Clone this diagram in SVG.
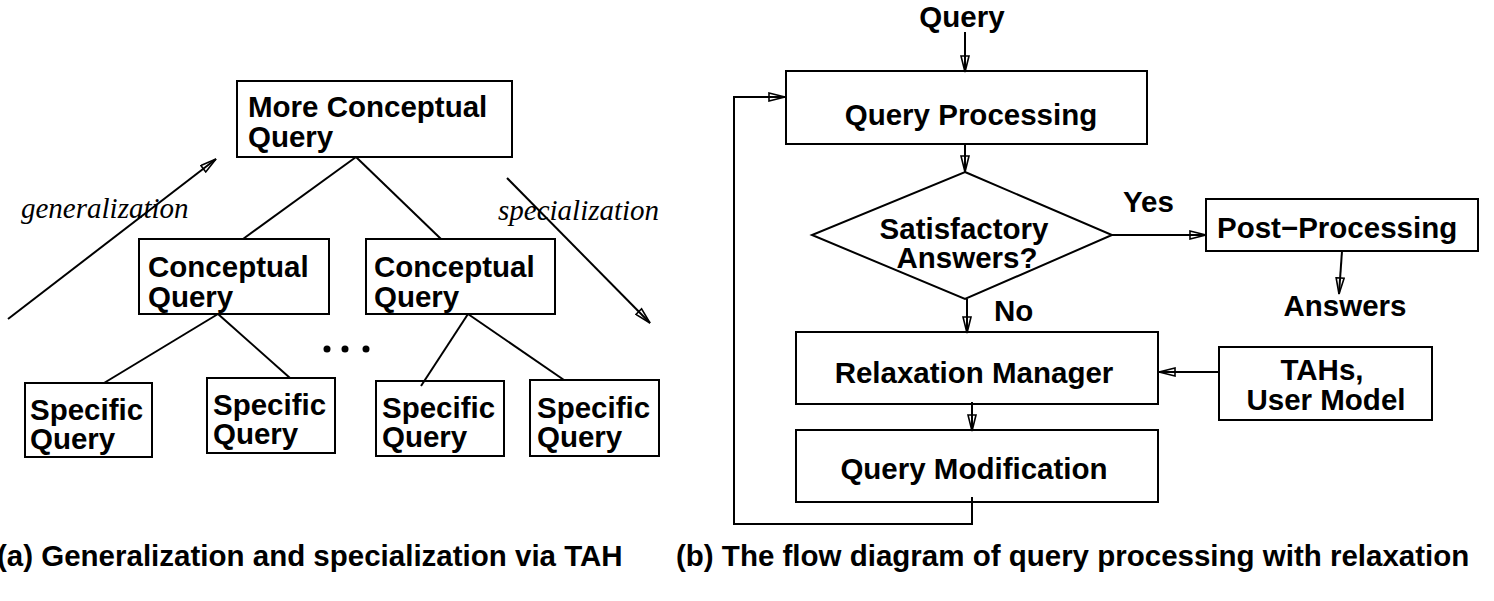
<svg xmlns="http://www.w3.org/2000/svg" width="1494" height="601" viewBox="0 0 1494 601">
<style>
.box{fill:none;stroke:#000;stroke-width:2}
.ln{fill:none;stroke:#000;stroke-width:2}
.t{font-family:"Liberation Sans",Arial,sans-serif;font-weight:bold;font-size:29.5px;fill:#000}
.it{font-family:"Liberation Serif","Times New Roman",serif;font-style:italic;font-size:29px;fill:#000}
.m{text-anchor:middle}
</style>
<defs>
<marker id="ah" viewBox="0 0 18 10" refX="17" refY="5" markerWidth="18" markerHeight="10" markerUnits="userSpaceOnUse" orient="auto">
<path d="M1,1 L17,5 L1,9 z" fill="none" stroke="#000" stroke-width="1.6"/>
</marker>
</defs>
<rect width="1494" height="601" fill="#fff"/>

<g id="connectors">
<line class="ln" x1="356" y1="157" x2="243" y2="239"/>
<line class="ln" x1="356" y1="157" x2="441" y2="239"/>
<line class="ln" x1="218" y1="314" x2="104" y2="383"/>
<line class="ln" x1="218" y1="314" x2="290" y2="378"/>
<line class="ln" x1="468" y1="314" x2="421" y2="386"/>
<line class="ln" x1="468" y1="314" x2="564" y2="380"/>
<line class="ln" x1="8" y1="319" x2="216" y2="159" marker-end="url(#ah)"/>
<line class="ln" x1="507" y1="178" x2="650" y2="323" marker-end="url(#ah)"/>
<line class="ln" x1="965" y1="32" x2="965" y2="72" marker-end="url(#ah)"/>
<line class="ln" x1="965" y1="144" x2="965" y2="172" marker-end="url(#ah)"/>
<line class="ln" x1="1112" y1="235" x2="1206" y2="235" marker-end="url(#ah)"/>
<line class="ln" x1="1342" y1="251" x2="1339" y2="294" marker-end="url(#ah)"/>
<line class="ln" x1="967" y1="299" x2="967" y2="333" marker-end="url(#ah)"/>
<line class="ln" x1="1219" y1="372" x2="1159" y2="372" marker-end="url(#ah)"/>
<line class="ln" x1="972" y1="402" x2="972" y2="431" marker-end="url(#ah)"/>
<polyline class="ln" points="972,497 972,524 734,524 734,97 785,97" marker-end="url(#ah)"/>
</g>

<g id="more-conceptual">
<rect class="box" x="237" y="81" width="275" height="76"/>
<text class="t" x="248" y="117">More Conceptual</text>
<text class="t" x="248" y="147">Query</text>
</g>
<g id="conceptual-1">
<rect class="box" x="139" y="239" width="190" height="75"/>
<text class="t" x="148" y="277">Conceptual</text>
<text class="t" x="148" y="307">Query</text>
</g>
<g id="conceptual-2">
<rect class="box" x="366" y="239" width="189" height="75"/>
<text class="t" x="374" y="277">Conceptual</text>
<text class="t" x="374" y="307">Query</text>
</g>
<g id="specific-1">
<rect class="box" x="25" y="383" width="127" height="74"/>
<text class="t" x="30" y="420">Specific</text>
<text class="t" x="30" y="449">Query</text>
</g>
<g id="specific-2">
<rect class="box" x="207" y="378" width="128" height="75"/>
<text class="t" x="213" y="415">Specific</text>
<text class="t" x="213" y="444">Query</text>
</g>
<g id="specific-3">
<rect class="box" x="376" y="381" width="128" height="75"/>
<text class="t" x="382" y="418">Specific</text>
<text class="t" x="382" y="447">Query</text>
</g>
<g id="specific-4">
<rect class="box" x="530" y="380" width="129" height="76"/>
<text class="t" x="537" y="418">Specific</text>
<text class="t" x="537" y="447">Query</text>
</g>
<g id="dots">
<circle cx="327" cy="349" r="3.5"/>
<circle cx="345" cy="349" r="3.5"/>
<circle cx="366" cy="349" r="3.5"/>
</g>
<g id="labels-left">
<text class="it" x="21" y="218">generalization</text>
<text class="it" x="498" y="220">specialization</text>
</g>

<g id="query-in">
<text class="t m" x="962" y="27">Query</text>
</g>
<g id="query-processing">
<rect class="box" x="786" y="71" width="361" height="73"/>
<text class="t m" x="971" y="125">Query Processing</text>
</g>
<g id="satisfactory">
<polygon class="box" points="965,172 1112,235 965,299 812,235"/>
<text class="t m" x="964" y="239">Satisfactory</text>
<text class="t m" x="967" y="268">Answers?</text>
</g>
<g id="yes-label"><text class="t" x="1123" y="212">Yes</text></g>
<g id="no-label"><text class="t" x="994" y="321">No</text></g>
<g id="post-processing">
<rect class="box" x="1206" y="199" width="272" height="52"/>
<text class="t" x="1217" y="238">Post−Processing</text>
</g>
<g id="answers"><text class="t m" x="1345" y="316">Answers</text></g>
<g id="relaxation-manager">
<rect class="box" x="796" y="332" width="362" height="72"/>
<text class="t m" x="974" y="383">Relaxation Manager</text>
</g>
<g id="tahs">
<rect class="box" x="1219" y="347" width="213" height="73"/>
<text class="t m" x="1322" y="380">TAHs,</text>
<text class="t m" x="1326" y="410">User Model</text>
</g>
<g id="query-modification">
<rect class="box" x="796" y="430" width="362" height="72"/>
<text class="t m" x="974" y="479">Query Modification</text>
</g>

<g id="captions">
<text class="t" x="-3" y="566">(a) Generalization and specialization via TAH</text>
<text class="t" x="676" y="566">(b) The flow diagram of query processing with relaxation</text>
</g>
</svg>
